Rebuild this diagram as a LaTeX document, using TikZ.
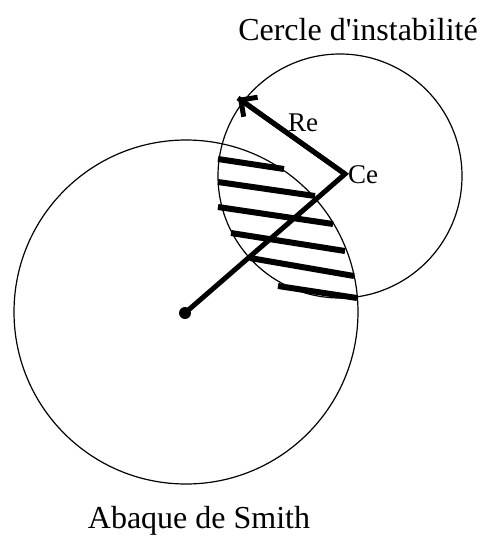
\documentclass[tikz,border=0pt]{standalone}
\usepackage{fontspec}
\setmainfont{Liberation Serif}
\usetikzlibrary{arrows.meta}
\begin{document}
\begin{tikzpicture}[x=1pt,y=-1pt,
  thin circle/.style={draw=black,line width=1.2pt},
  thick line/.style={draw=black,line width=5pt},
  hatch/.style={draw=black,line width=6pt},
  lbl/.style={inner sep=0pt,font=\fontsize{27}{30}\selectfont},
  title/.style={inner sep=0pt,font=\fontsize{32}{38}\selectfont}]
\useasboundingbox (0,0) rectangle (482,550);
% Smith chart circle
\draw[thin circle] (186,312) circle[radius=172];
% instability circle
\draw[thin circle] (340,176) circle[radius=122];
% hatch lines
\draw[hatch] (218,159) -- (284,169);
\draw[hatch] (218,182) -- (315,196);
\draw[hatch] (218,207) -- (333,224);
\draw[hatch] (231,233) -- (345,251);
\draw[hatch] (250,258) -- (354,276);
\draw[hatch] (278,286) -- (357,298);
% points
\coordinate (O) at (185,313);
\coordinate (Ce) at (345,174);
\coordinate (T) at (238,98);
\fill (O) circle[radius=6];
\draw[thick line,line join=miter] (O) -- (Ce) -- (T);
\draw[line width=5pt,-{Straight Barb[length=12pt,width=24pt,line width=5pt]}] (Ce) -- (T);
% labels
\node[lbl,anchor=west] (cel) at (348,175) {Ce};
\node[lbl] (rel) at (303,123) {Re};
\node[title] (t1) at (358,30) {Cercle d\textquotesingle instabilité};
\node[title] (t2) at (199,521) {Abaque de Smith};
\end{tikzpicture}
\end{document}
